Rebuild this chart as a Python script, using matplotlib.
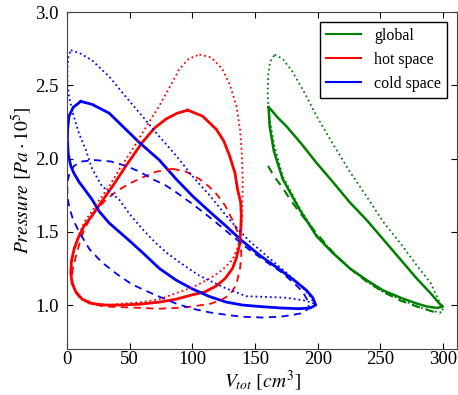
import matplotlib

matplotlib.use("Agg")

import matplotlib.pyplot as plt

# global (total volume) loops
global_solid_x = [160.8, 163, 168, 175, 187, 199, 212, 225.6, 239, 252, 266, 279, 290, 297, 299.7,
                  295, 287, 279, 266, 252, 239, 225.6, 212, 199, 185.6, 172, 165, 161.6, 160.8]
global_solid_y = [2.35, 2.33, 2.28, 2.22, 2.10, 1.97, 1.84, 1.70, 1.58, 1.45, 1.31, 1.18, 1.08, 1.01, 0.99,
                  0.98, 0.99, 1.01, 1.05, 1.10, 1.17, 1.25, 1.355, 1.47, 1.65, 1.86, 2.05, 2.22, 2.35]

global_dot_x = [165.6, 172, 180, 190, 199, 212, 225.6, 239, 252, 266, 279, 290, 297.6, 300, 298,
                290, 279, 266, 252, 239, 225.6, 212, 199, 185.6, 172, 165, 161, 160, 160.5, 162, 165.6]
global_dot_y = [2.71, 2.68, 2.59, 2.44, 2.29, 2.10, 1.91, 1.74, 1.57, 1.42, 1.27, 1.15, 1.01, 0.96, 0.95,
                0.96, 0.99, 1.04, 1.09, 1.16, 1.25, 1.36, 1.48, 1.66, 1.88, 2.10, 2.30, 2.45, 2.58, 2.66, 2.71]

global_dash_x = [160.3, 165, 172, 178, 185.6, 199, 212, 225.6, 239, 252, 266, 279, 290, 297.6]
global_dash_y = [1.95, 1.88, 1.80, 1.72, 1.63, 1.49, 1.36, 1.25, 1.16, 1.09, 1.03, 0.99, 0.96, 0.94]

# hot space loops
hot_solid_x = [96.3, 108, 119, 125, 129.6, 134, 136, 138.5, 139, 138.5, 137.6, 135, 132, 126, 119, 110,
               100, 87, 73.6, 57, 41.6, 30, 20, 12, 7, 4, 3, 3.5, 5.6, 9, 13.6, 20, 28, 37, 47, 60, 70,
               79, 88, 96.3]
hot_solid_y = [2.33, 2.29, 2.20, 2.12, 2.02, 1.90, 1.79, 1.70, 1.61, 1.51, 1.41, 1.32, 1.25, 1.18, 1.13, 1.09,
               1.07, 1.04, 1.02, 1.005, 1.0, 1.0, 1.01, 1.04, 1.09, 1.15, 1.22, 1.30, 1.38, 1.46, 1.54, 1.61,
               1.71, 1.82, 1.95, 2.11, 2.21, 2.27, 2.31, 2.33]

hot_dash_x = [84, 95, 105.6, 113, 119, 126, 132, 136, 138.5, 139, 138, 135, 130, 124, 115, 100, 87, 73,
              60, 45, 30, 18, 10, 6, 4, 4.5, 7, 10, 13, 20, 30, 40, 50, 60, 71, 84]
hot_dash_y = [1.93, 1.91, 1.86, 1.81, 1.76, 1.68, 1.58, 1.50, 1.43, 1.34, 1.25, 1.14, 1.07, 1.04, 1.01, 0.99,
              0.98, 0.975, 0.98, 0.985, 0.99, 1.01, 1.05, 1.10, 1.17, 1.24, 1.33, 1.42, 1.50, 1.62, 1.71,
              1.78, 1.83, 1.87, 1.91, 1.93]

hot_dot_x = [105.6, 115, 124, 130, 135, 138, 139.5, 140, 140, 139.5, 139, 136, 132, 124, 113.6, 100, 90,
             73.6, 60, 45, 33.6, 22, 13, 7, 4, 3.5, 6, 10, 14, 20, 26, 33.6, 42, 52, 62, 73.6, 82, 89.6,
             97, 105.6]
hot_dot_y = [2.71, 2.69, 2.61, 2.50, 2.36, 2.20, 2.02, 1.88, 1.75, 1.62, 1.50, 1.39, 1.31, 1.24, 1.18, 1.12,
             1.09, 1.04, 1.02, 1.01, 1.0, 1.01, 1.04, 1.09, 1.17, 1.25, 1.40, 1.49, 1.57, 1.64, 1.72, 1.81,
             1.93, 2.06, 2.20, 2.36, 2.49, 2.61, 2.68, 2.71]

# cold space loops
cold_solid_x = [11, 20, 33.6, 45, 57.6, 73.6, 87, 100, 116, 128, 138, 153.6, 170, 181, 191, 196, 198.4,
                194, 185, 170, 153.6, 140, 127, 113, 100, 87, 73.6, 60, 47, 33.6, 25.6, 20, 14, 9.6, 5.5,
                3, 1, 0.3, 0.5, 1.6, 5, 11]
cold_solid_y = [2.39, 2.37, 2.31, 2.215, 2.11, 1.99, 1.86, 1.745, 1.62, 1.53, 1.45, 1.34, 1.24, 1.17, 1.10,
                1.05, 1.0, 0.98, 0.975, 0.98, 0.99, 1.0, 1.02, 1.06, 1.11, 1.17, 1.25, 1.36, 1.46, 1.56, 1.64,
                1.72, 1.79, 1.84, 1.90, 1.95, 2.03, 2.13, 2.20, 2.29, 2.35, 2.39]

cold_dash_x = [21.6, 35, 47, 58, 68, 78, 87, 100, 113.6, 125, 132, 145, 158, 170, 181, 188, 192, 193,
               188, 178, 170, 156, 140, 129.6, 113.6, 100, 87, 70, 52, 40, 28, 18, 9.6, 5, 2, 0.3, 0.3,
               2, 5.6, 12, 21.6]
cold_dash_y = [1.99, 1.98, 1.95, 1.91, 1.86, 1.82, 1.77, 1.69, 1.60, 1.52, 1.47, 1.38, 1.30, 1.23, 1.15,
               1.09, 1.03, 0.98, 0.945, 0.93, 0.92, 0.915, 0.92, 0.93, 0.95, 0.975, 1.01, 1.07, 1.14, 1.21,
               1.29, 1.38, 1.50, 1.58, 1.66, 1.74, 1.84, 1.90, 1.95, 1.98, 1.99]

cold_dot_x = [3, 10, 20, 33.6, 47, 60, 73.6, 87, 100, 113.6, 125, 135, 145, 160, 175, 188, 194, 197,
              190, 175, 160, 143, 125, 105.6, 90, 79, 70, 60, 50, 41.6, 34, 28, 20, 15, 9.6, 5, 1.6, 0.3,
              0.3, 1, 3]
cold_dot_y = [2.74, 2.72, 2.67, 2.56, 2.42, 2.29, 2.15, 2.02, 1.88, 1.75, 1.63, 1.53, 1.44, 1.33, 1.22,
              1.12, 1.06, 1.01, 1.03, 1.05, 1.055, 1.06, 1.12, 1.20, 1.29, 1.36, 1.43, 1.52, 1.62, 1.72,
              1.77, 1.81, 1.93, 2.06, 2.17, 2.30, 2.42, 2.52, 2.62, 2.69, 2.74]

x_ticks = [0, 50, 100, 150, 200, 250, 300]
y_ticks = [1.0, 1.5, 2.0, 2.5, 3.0]

plt.rcParams["font.family"] = ["Liberation Serif", "DejaVu Serif"]
plt.rcParams["mathtext.fontset"] = "stix"

fig = plt.figure(figsize=(4.58, 3.95), dpi=100)
ax = fig.add_axes([0.1463, 0.1165, 0.8515, 0.853])

ax.plot(global_solid_x, global_solid_y, color="green", lw=1.8, label="global")
ax.plot(hot_solid_x, hot_solid_y, color="red", lw=2.0, label="hot space")
ax.plot(cold_solid_x, cold_solid_y, color="blue", lw=2.0, label="cold space")

ax.plot(global_dash_x, global_dash_y, color="green", lw=1.5, ls="--", dashes=(4, 3))
ax.plot(hot_dash_x, hot_dash_y, color="red", lw=1.3, ls="--", dashes=(4, 3))
ax.plot(cold_dash_x, cold_dash_y, color="blue", lw=1.3, ls="--", dashes=(4, 3))

ax.plot(global_dot_x, global_dot_y, color="green", lw=1.3, ls=":")
ax.plot(hot_dot_x, hot_dot_y, color="red", lw=1.3, ls=":")
ax.plot(cold_dot_x, cold_dot_y, color="blue", lw=1.3, ls=":")

ax.set_xlim(0, 311)
ax.set_ylim(0.7, 3.0)
ax.set_xticks(x_ticks)
ax.set_yticks(y_ticks)
ax.set_yticklabels(["%.1f" % v for v in y_ticks])
ax.tick_params(direction="in", top=True, right=True, labelsize=13.5, length=4)
ax.tick_params(axis="x", pad=1.5)
ax.tick_params(axis="y", pad=6)
for spine in ax.spines.values():
    spine.set_color("#444444")

ax.set_xlabel(r"$V_{tot}\ [cm^3]$", fontsize=14, labelpad=0)
ax.set_ylabel(r"$Pressure\ [Pa\cdot 10^5]$", fontsize=14, labelpad=1)

leg = ax.legend(loc="upper right", fontsize=11.5, fancybox=False, edgecolor="black",
                handlelength=2.2, borderaxespad=0.6, framealpha=1)
leg.get_frame().set_linewidth(1.0)
for line in leg.get_lines():
    line.set_linewidth(1.5)

fig.savefig("out.png", dpi=100)
